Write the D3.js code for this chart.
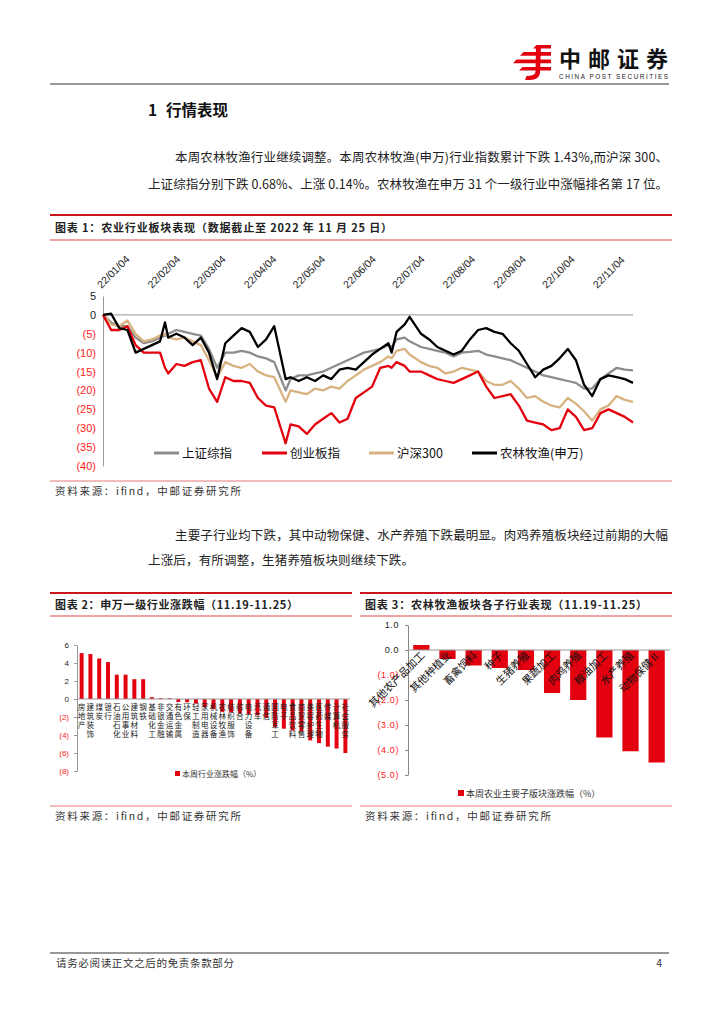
<!DOCTYPE html>
<html>
<head>
<meta charset="utf-8">
<script src="https://cdn.jsdelivr.net/npm/d3@7/dist/d3.min.js"></script>
<style>
  html, body { margin: 0; padding: 0; background: #fff; }
  svg { display: block; font-family: "Noto Sans CJK SC", "Liberation Sans", sans-serif; }
</style>
</head>
<body>
<svg id="page" width="724" height="1024"></svg>
<script>
// ---- chart 1: cumulative performance (%) ----
const lineDates = [
  '2022-01-04', '2022-01-09', '2022-01-14', '2022-01-19', '2022-01-24', '2022-01-29',
  '2022-02-03', '2022-02-08', '2022-02-11', '2022-02-13', '2022-02-18', '2022-02-23',
  '2022-02-28', '2022-03-05', '2022-03-10', '2022-03-15', '2022-03-20', '2022-03-25',
  '2022-03-30', '2022-04-04', '2022-04-09', '2022-04-14', '2022-04-19', '2022-04-26',
  '2022-04-29', '2022-05-04', '2022-05-09', '2022-05-14', '2022-05-19', '2022-05-24',
  '2022-05-29', '2022-06-03', '2022-06-08', '2022-06-13', '2022-06-18', '2022-06-23',
  '2022-06-28', '2022-06-30', '2022-07-03', '2022-07-08', '2022-07-11', '2022-07-18',
  '2022-07-23', '2022-07-28', '2022-08-02', '2022-08-07', '2022-08-12', '2022-08-17',
  '2022-08-22', '2022-08-27', '2022-09-01', '2022-09-06', '2022-09-11', '2022-09-16',
  '2022-09-21', '2022-09-26', '2022-10-01', '2022-10-06', '2022-10-11', '2022-10-16',
  '2022-10-21', '2022-10-26', '2022-10-31', '2022-11-05', '2022-11-10', '2022-11-15',
  '2022-11-20', '2022-11-25',
];
// 上证综指
const shComposite = [
  0, -2, -3, -3, -6, -7.5, -7, -6, -5.5, -5, -4, -4.5,
  -5, -5.5, -9, -14, -10, -10, -9.5, -10, -11, -11.5, -12.5, -20,
  -17, -16, -16, -15.5, -15, -14, -13, -12, -11, -10, -9.5, -9,
  -8, -8.5, -6.5, -6, -7, -8.5, -9, -9.5, -10, -11, -10, -9.8,
  -9.5, -10.5, -11, -11.5, -12, -13, -14, -15, -16, -16.5, -17, -17.5,
  -18, -19.5, -19.5, -17, -15.5, -14, -14.5, -14.7,
];
// 创业板指
const chiNext = [
  0, -4, -4, -3, -8, -10, -10, -10, -14, -15.5, -13, -13.5,
  -12.5, -12, -19.5, -23, -16.5, -17.5, -17.5, -18, -22, -24, -24.5, -34,
  -29, -29.5, -31.5, -29, -27.5, -26, -28.5, -27.5, -22, -20.5, -19, -14,
  -13.5, -14, -12.5, -13.5, -15, -15, -16, -17, -17.5, -18, -17, -16,
  -15, -19, -22, -21.5, -21, -24, -28, -28.5, -29, -30.5, -30, -25,
  -27, -30.5, -30, -26, -25, -26, -27, -28.5,
];
// 沪深300
const csi300 = [
  0, -2.5, -3, -1.5, -5, -7, -6.5, -5.5, -5, -6, -6.5, -6,
  -7, -8, -12, -16.5, -12.5, -13.5, -14, -13, -15, -16, -16.5, -23,
  -20, -20.5, -21, -19.5, -20, -19, -19.5, -17.5, -16, -14.5, -13.5, -12.5,
  -11, -11.5, -9.5, -9, -10.5, -12.5, -13.5, -14, -15.5, -15, -14, -14.5,
  -15, -17.5, -18.5, -18.5, -17.5, -19.5, -22, -21.5, -23, -24, -24.5, -22,
  -23.5, -25.5, -28, -25, -24, -21.5, -22.5, -23,
];
// 农林牧渔(申万)
const agriSW = [
  0, 0.3, -3.5, -4, -10, -9, -8, -7, -2, -6, -5, -6,
  -8, -6, -10, -17, -7.5, -5.5, -3.5, -4.5, -8.5, -6.5, -3, -17,
  -16.5, -17.5, -16.5, -17.5, -16, -17, -14.5, -14, -14.5, -12.5, -10.5, -9,
  -7.5, -10, -4.5, -2.5, -0.5, -5, -6.5, -8.5, -9.5, -10.5, -9.5, -6.5,
  -4, -3.5, -4.5, -5, -7.5, -9.5, -13, -16.5, -14.5, -13.5, -11.5, -9,
  -12, -18.5, -21.5, -17, -16, -16.5, -17, -18,
];
const lineNames = ['上证综指', '创业板指', '沪深300', '农林牧渔(申万)'];
const lineColors = ['#8c8c8c', '#e3000f', '#d8b280', '#000000'];
const lineTicks = [
  '2022-01-04', '2022-02-04', '2022-03-04', '2022-04-04', '2022-05-04', '2022-06-04',
  '2022-07-04', '2022-08-04', '2022-09-04', '2022-10-04', '2022-11-04',
];
const lineYTicks = [5, 0, -5, -10, -15, -20, -25, -30, -35, -40];

// ---- chart 2: 申万一级行业涨跌幅 (%) ----
const swNames = [
  '房地产', '建筑装饰', '煤炭', '银行', '石油石化', '公用事业', '建筑材料', '钢铁',
  '基础化工', '非银金融', '交通运输', '有色金属', '环保', '轻工制造', '家用电器',
  '机械设备', '农林牧渔', '纺织服饰', '综合', '电力设备', '汽车', '通信', '国防军工',
  '电子', '食品饮料', '商贸零售', '美容护理', '医药生物', '传媒', '计算机', '社会服务',
];
const swChange = [
  5.1, 5.0, 4.5, 4.1, 2.7, 2.7, 2.2, 2.2,
  0.2, 0.1, 0.08, -0.33, -0.36, -0.5, -0.9,
  -1.1, -1.43, -1.5, -1.6, -1.7, -1.8, -2.1, -3.1,
  -3.3, -3.5, -3.6, -4.6, -4.9, -5.3, -5.5, -6.0,
];
const swYTicks = [6, 4, 2, 0, -2, -4, -6, -8];

// ---- chart 3: 农林牧渔子行业 (%) ----
const subNames = [
  '其他农产品加工', '其他种植业', '畜禽饲料', '种子', '生猪养殖',
  '果蔬加工', '肉鸡养殖', '粮油加工', '水产养殖', '动物保健Ⅱ',
];
const subChange = [0.2, -0.36, -0.62, -0.72, -0.8, -1.72, -2.0, -3.5, -4.05, -4.5];
const subYTicks = [1, 0, -1, -2, -3, -4, -5];

const RED = '#e3000f';
const HEAD_RED = '#c9161d';
const svg = d3.select('#page');

// ---------- page furniture ----------
// China Post emblem: four stripes plus a hook.
const logo = svg.append('g').attr('fill', RED);
[[533, 45, 551, 3.6], [520, 52, 551, 3.8], [513, 59.5, 551, 3.8], [519, 67, 551, 3.6]]
  .forEach(([x0, y0, x1, h]) => {
    logo.append('path').attr('d', `M${x0 + 3.5},${y0} L${x1},${y0} L${x1},${y0 + h} L${x0},${y0 + h} Z`);
  });
logo.append('path')
  .attr('d', 'M536,45 L541,45 L540,73 Q539,80 530,80 L525,80 L526.5,76 Q535,76 535.5,72 Z');
svg.append('text').attr('x', 559).attr('y', 67).attr('font-size', 22).attr('font-weight', 700)
  .attr('textLength', 109).attr('fill', '#111').text('中邮证券');
svg.append('text').attr('x', 559).attr('y', 78.5).attr('font-size', 6.4)
  .attr('font-family', 'Liberation Sans, Arial, sans-serif')
  .attr('textLength', 109).attr('fill', '#222').text('CHINA POST SECURITIES');
svg.append('line').attr('x1', 50).attr('x2', 669).attr('y1', 84).attr('y2', 84)
  .attr('stroke', '#333').attr('stroke-width', 1);

svg.append('text').attr('x', 148).attr('y', 116).attr('font-size', 15.5).attr('font-weight', 700)
  .attr('fill', '#111').text('1');
svg.append('text').attr('x', 166).attr('y', 116).attr('font-size', 15.5).attr('font-weight', 700)
  .attr('fill', '#111').text('行情表现');

function para(x, y, str, width) {
  const t = svg.append('text').attr('x', x).attr('y', y).attr('font-size', 12.5)
    .attr('fill', '#222').text(str);
  if (width) t.attr('textLength', width).attr('lengthAdjust', 'spacing');
}
para(175, 161.5, '本周农林牧渔行业继续调整。本周农林牧渔(申万)行业指数累计下跌 1.43%,而沪深 300、', 493);
para(148, 188.5, '上证综指分别下跌 0.68%、上涨 0.14%。农林牧渔在申万 31 个一级行业中涨幅排名第 17 位。', 520);
para(175, 540, '主要子行业均下跌，其中动物保健、水产养殖下跌最明显。肉鸡养殖板块经过前期的大幅', 493);
para(148, 565, '上涨后，有所调整，生猪养殖板块则继续下跌。', 266);

function chartHeader(x0, x1, yTop, yBottom, title, titleLen) {
  svg.append('line').attr('x1', x0).attr('x2', x1).attr('y1', yTop).attr('y2', yTop)
    .attr('stroke', HEAD_RED).attr('stroke-width', 2.2);
  svg.append('line').attr('x1', x0).attr('x2', x1).attr('y1', yBottom).attr('y2', yBottom)
    .attr('stroke', '#d9484e').attr('stroke-width', 1);
  svg.append('text').attr('x', x0 + 5).attr('y', (yTop + yBottom) / 2 + 4.5)
    .attr('font-size', 11).attr('font-weight', 700).attr('fill', '#222')
    .attr('textLength', titleLen).text(title);
}
function source(x0, x1, y) {
  svg.append('line').attr('x1', x0).attr('x2', x1).attr('y1', y).attr('y2', y)
    .attr('stroke', '#e0787c').attr('stroke-width', 1);
  svg.append('text').attr('x', x0 + 5).attr('y', y + 14).attr('font-size', 10.5)
    .attr('fill', '#333').attr('textLength', 186).text('资料来源：ifind，中邮证券研究所');
}

chartHeader(50, 672, 215, 240, '图表 1：农业行业板块表现（数据截止至 2022 年 11 月 25 日）', 337);
source(50, 672, 481);
chartHeader(50, 352, 593, 616, '图表 2：申万一级行业涨跌幅（11.19-11.25）', 243);
source(50, 352, 806);
chartHeader(360, 672, 593, 616, '图表 3：农林牧渔板块各子行业表现（11.19-11.25）', 282);
source(360, 672, 806);

svg.append('line').attr('x1', 50).attr('x2', 669).attr('y1', 953).attr('y2', 953)
  .attr('stroke', '#333').attr('stroke-width', 1.2);
svg.append('text').attr('x', 56).attr('y', 967).attr('font-size', 10.5).attr('fill', '#333')
  .attr('textLength', 178).text('请务必阅读正文之后的免责条款部分');
svg.append('text').attr('x', 662).attr('y', 967).attr('font-size', 10.5).attr('fill', '#333')
  .attr('text-anchor', 'end').text('4');

// ---------- chart 1: lines ----------
const parse = d3.timeParse('%Y-%m-%d');
const dates = lineDates.map(parse);
const x1 = d3.scaleTime().domain([dates[0], dates[dates.length - 1]]).range([103, 633]);
const y1 = d3.scaleLinear().domain([-40, 5]).range([466, 296]);
const paren = (v, f) => (v < 0 ? `(${f(-v)})` : f(v));

const g1 = svg.append('g');
const yAxis1 = g1.append('g').attr('transform', 'translate(103,0)')
  .call(d3.axisLeft(y1).tickValues(lineYTicks).tickSize(0).tickPadding(7)
    .tickFormat((v) => paren(v, d3.format('d'))));
yAxis1.select('.domain').attr('stroke', '#999');
yAxis1.selectAll('text').attr('font-size', 11).attr('font-family', 'Liberation Sans, Arial, sans-serif')
  .attr('fill', (v) => (v < 0 ? '#ff1a1a' : '#222'));

const xAxis1 = g1.append('g').attr('transform', 'translate(0,291)')
  .call(d3.axisTop(x1).tickValues(lineTicks.map(parse)).tickSize(0)
    .tickFormat(d3.timeFormat('%y/%m/%d')));
xAxis1.select('.domain').remove();
xAxis1.selectAll('text').attr('font-size', 10.5).attr('fill', '#222')
  .attr('font-family', 'Liberation Sans, Arial, sans-serif')
  .attr('text-anchor', 'start').attr('dy', 0)
  .attr('transform', 'rotate(-45)');

g1.append('line').attr('x1', 103).attr('x2', 633).attr('y1', y1(0)).attr('y2', y1(0))
  .attr('stroke', '#999').attr('stroke-width', 1);

const seriesVals = [shComposite, chiNext, csi300, agriSW];
const drawOrder = [0, 2, 1, 3];
const line = d3.line().x((d) => x1(d[0])).y((d) => y1(d[1]));
drawOrder.forEach((i) => {
  g1.append('path')
    .datum(dates.map((d, k) => [d, seriesVals[i][k]]))
    .attr('d', line).attr('fill', 'none')
    .attr('stroke', lineColors[i]).attr('stroke-width', 2.3)
    .attr('stroke-linejoin', 'round');
});

const legendX = [154, 262, 369, 472];
lineNames.forEach((name, i) => {
  const lg = g1.append('g').attr('transform', `translate(${legendX[i]},453)`);
  lg.append('line').attr('x1', 0).attr('x2', 25).attr('stroke', lineColors[i]).attr('stroke-width', 3);
  lg.append('text').attr('x', 28).attr('y', 4.5).attr('font-size', 12.5).attr('fill', '#111').text(name);
});

// ---------- chart 2: SW level-1 industries ----------
const x2 = d3.scaleBand().domain(swNames).range([77, 350]).paddingInner(0.55).paddingOuter(0.3);
const y2 = d3.scaleLinear().domain([-8, 6]).range([771, 645]);
const g2 = svg.append('g');
const yAxis2 = g2.append('g').attr('transform', 'translate(77,0)')
  .call(d3.axisLeft(y2).tickValues(swYTicks).tickSize(3).tickSizeOuter(0).tickPadding(5)
    .tickFormat((v) => paren(v, d3.format('d'))));
yAxis2.selectAll('.domain, line').attr('stroke', '#999');
yAxis2.selectAll('text').attr('font-size', 8).attr('font-family', 'Liberation Sans, Arial, sans-serif')
  .attr('fill', (v) => (v < 0 ? '#ff1a1a' : '#222'));

g2.selectAll('rect').data(swNames).join('rect')
  .attr('x', (d) => x2(d)).attr('width', x2.bandwidth())
  .attr('y', (d, i) => y2(Math.max(0, swChange[i])))
  .attr('height', (d, i) => Math.abs(y2(swChange[i]) - y2(0)))
  .attr('fill', RED);
g2.append('line').attr('x1', 77).attr('x2', 350).attr('y1', y2(0)).attr('y2', y2(0))
  .attr('stroke', '#999');
// category names, written top to bottom one character per row
g2.selectAll('text.cat').data(swNames).join('text').attr('class', 'cat')
  .attr('font-size', 7.6).attr('fill', '#222').attr('text-anchor', 'middle')
  .each(function (name) {
    const cx = x2(name) + x2.bandwidth() / 2;
    d3.select(this).selectAll('tspan').data(Array.from(name)).join('tspan')
      .attr('x', cx).attr('y', (c, k) => 709.5 + k * 9.2).text((c) => c);
  });
g2.append('rect').attr('x', 175).attr('y', 771).attr('width', 5).attr('height', 5).attr('fill', RED);
g2.append('text').attr('x', 182).attr('y', 776.5).attr('font-size', 8).attr('fill', '#333')
  .text('本周行业涨跌幅（%）');

// ---------- chart 3: agri sub-sectors ----------
const x3 = d3.scaleBand().domain(subNames).range([408, 670]).paddingInner(0.38).paddingOuter(0.2);
const y3 = d3.scaleLinear().domain([-5, 1]).range([775, 625]);
const g3 = svg.append('g');
const yAxis3 = g3.append('g').attr('transform', 'translate(408,0)')
  .call(d3.axisLeft(y3).tickValues(subYTicks).tickSize(3).tickSizeOuter(0).tickPadding(6)
    .tickFormat((v) => paren(v, d3.format('.1f'))));
yAxis3.selectAll('.domain, line').attr('stroke', '#888');
yAxis3.selectAll('text').attr('font-size', 9).attr('font-family', 'Liberation Sans, Arial, sans-serif')
  .attr('letter-spacing', 0.6)
  .attr('fill', (v) => (v < 0 ? '#ff1a1a' : '#222'));

g3.selectAll('rect').data(subNames).join('rect')
  .attr('x', (d) => x3(d)).attr('width', x3.bandwidth())
  .attr('y', (d, i) => y3(Math.max(0, subChange[i])))
  .attr('height', (d, i) => Math.abs(y3(subChange[i]) - y3(0)))
  .attr('fill', RED);
g3.append('line').attr('x1', 408).attr('x2', 670).attr('y1', y3(0)).attr('y2', y3(0))
  .attr('stroke', '#999');
g3.selectAll('text.cat').data(subNames).join('text').attr('class', 'cat')
  .attr('font-size', 10.5).attr('fill', '#111').attr('text-anchor', 'end')
  .attr('transform', (d) => `translate(${x3(d) + x3.bandwidth() / 2 + 4},656) rotate(-45)`)
  .text((d) => d);
g3.append('rect').attr('x', 458).attr('y', 790).attr('width', 6).attr('height', 6).attr('fill', RED);
g3.append('text').attr('x', 466).attr('y', 796.5).attr('font-size', 9).attr('fill', '#333')
  .text('本周农业主要子版块涨跌幅（%）');
</script>
</body>
</html>
